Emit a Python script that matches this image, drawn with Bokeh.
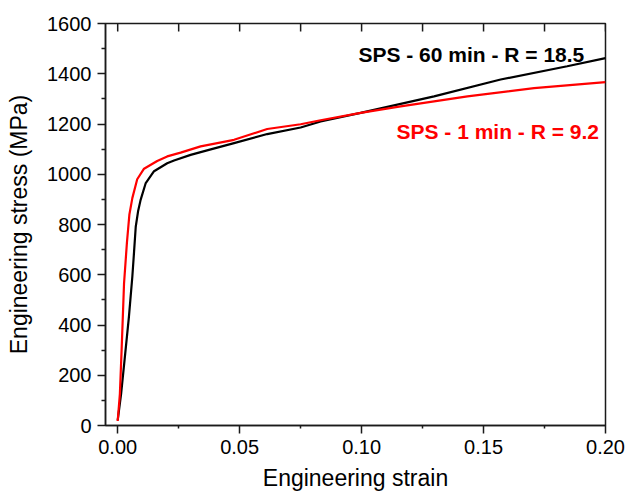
from bokeh.plotting import figure
from bokeh.models import Range1d, FixedTicker, LinearAxis, Label
from bokeh.embed import file_html
from bokeh.resources import INLINE

# ---- data ----
strain_60 = [0.0, 0.0014, 0.0028, 0.0046, 0.0060, 0.0067, 0.0074, 0.0084, 0.0094, 0.0115, 0.0149,
             0.0203, 0.0231, 0.0299, 0.0374, 0.0477, 0.0613, 0.0750, 0.0832, 0.0996,
             0.1297, 0.1570, 0.1843, 0.2000]
stress_60 = [20, 126, 259, 432, 592, 690, 791, 855, 898, 965, 1012,
             1044, 1055, 1077, 1097, 1124, 1160, 1186, 1210, 1244,
             1310, 1377, 1430, 1462]

strain_1 = [0.0, 0.0009, 0.0016, 0.0026, 0.0038, 0.0048, 0.0060, 0.0080, 0.0108, 0.0162,
            0.0203, 0.0258, 0.0340, 0.0477, 0.0613, 0.0750, 0.0832, 0.0996, 0.1160,
            0.1434, 0.1707, 0.2000]
stress_1 = [18, 126, 299, 565, 730, 840, 905, 980, 1022, 1053,
            1071, 1086, 1111, 1137, 1180, 1199, 1215, 1244, 1270,
            1310, 1343, 1367]

label_60 = "SPS - 60 min - R = 18.5"
label_1 = "SPS - 1 min - R = 9.2"

x_ticks = [0.0, 0.05, 0.10, 0.15, 0.20]
x_tick_labels = ["0.00", "0.05", "0.10", "0.15", "0.20"]
x_minor = [0.025, 0.075, 0.125, 0.175]
y_ticks = [0, 200, 400, 600, 800, 1000, 1200, 1400, 1600]
y_tick_labels = ["0", "200", "400", "600", "800", "1000", "1200", "1400", "1600"]
y_minor = [100, 300, 500, 700, 900, 1100, 1300, 1500]
x_label = "Engineering strain"
y_label = "Engineering stress (MPa)"

FONT = "Liberation Sans"
AX = "#1a1a1a"
Y_TOP = 1600

p = figure(width=627, height=496, output_backend="svg", toolbar_location=None,
           x_range=Range1d(-0.005, 0.2), y_range=Range1d(0, Y_TOP),
           min_border_left=105, min_border_right=22, min_border_top=23, min_border_bottom=71,
           x_axis_location=None, y_axis_location=None)
p.grid.visible = False
p.outline_line_color = AX
p.outline_line_width = 1.5
p.background_fill_color = "white"
p.border_fill_color = "white"

p.line(strain_60, stress_60, line_color="black", line_width=2.2)
p.line(strain_1, stress_1, line_color="#ff0000", line_width=2.2)

# inward ticks along the top edge
top_ticks = x_ticks + x_minor
p.ray(x=top_ticks, y=[Y_TOP] * len(top_ticks), length=8, length_units="screen",
      angle=-1.5707963, line_color=AX, line_width=1.5)

# bottom axis
xa = LinearAxis(ticker=FixedTicker(ticks=x_ticks, minor_ticks=x_minor))
xa.major_label_overrides = {t: s for t, s in zip(x_ticks, x_tick_labels)}
xa.major_tick_in = 0
xa.major_tick_out = 8
xa.minor_tick_in = 0
xa.minor_tick_out = 3
xa.axis_line_width = 1.5
xa.axis_line_color = AX
xa.major_tick_line_width = 1.5
xa.minor_tick_line_width = 1.5
xa.major_tick_line_color = AX
xa.minor_tick_line_color = AX
xa.major_label_text_font = FONT
xa.major_label_text_font_size = "20px"
xa.major_label_text_color = "black"
xa.major_label_standoff = 6
xa.axis_label = x_label
xa.axis_label_text_font = FONT
xa.axis_label_text_font_size = "23px"
xa.axis_label_text_font_style = "normal"
xa.axis_label_text_color = "black"
xa.axis_label_standoff = 8
p.add_layout(xa, "below")

# left axis
ya = LinearAxis(ticker=FixedTicker(ticks=y_ticks, minor_ticks=y_minor))
ya.major_label_overrides = {t: s for t, s in zip(y_ticks, y_tick_labels)}
ya.major_tick_in = 0
ya.major_tick_out = 8
ya.minor_tick_in = 0
ya.minor_tick_out = 4
ya.axis_line_width = 1.5
ya.axis_line_color = AX
ya.major_tick_line_width = 1.5
ya.minor_tick_line_width = 1.5
ya.major_tick_line_color = AX
ya.minor_tick_line_color = AX
ya.major_label_text_font = FONT
ya.major_label_text_font_size = "20px"
ya.major_label_text_color = "black"
ya.major_label_standoff = 6
ya.axis_label = y_label
ya.axis_label_text_font = FONT
ya.axis_label_text_font_size = "23px"
ya.axis_label_text_font_style = "normal"
ya.axis_label_text_color = "black"
ya.axis_label_standoff = 12
p.add_layout(ya, "left")

# curve annotations
p.add_layout(Label(x=0.0987, y=1477, text=label_60, text_font=FONT, text_font_size="21px",
                   text_font_style="bold", text_align="left", text_baseline="alphabetic",
                   text_color="black"))
p.add_layout(Label(x=0.1143, y=1171, text=label_1, text_font=FONT, text_font_size="21px",
                   text_font_style="bold", text_align="left", text_baseline="alphabetic",
                   text_color="#ff0000"))

open("out.html", "w").write(file_html(p, INLINE))
